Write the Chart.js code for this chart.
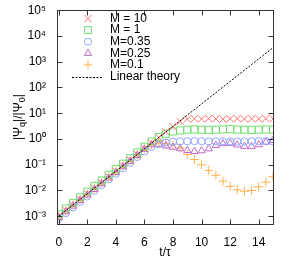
<!DOCTYPE html>
<html>
<head>
<meta charset="utf-8">
<script src="https://cdn.jsdelivr.net/npm/chart.js"></script>
<style>
  html, body { margin: 0; padding: 0; background: #fff; }
  #wrap { width: 291px; height: 262px; }
</style>
</head>
<body>
<div id="wrap"><canvas id="chart" width="291" height="262"></canvas></div>
<script>
// время t/tau, шаг 0.5
const times = [0, 0.5, 1, 1.5, 2, 2.5, 3, 3.5, 4, 4.5, 5, 5.5, 6, 6.5, 7, 7.5,
  8, 8.5, 9, 9.5, 10, 10.5, 11, 11.5, 12, 12.5, 13, 13.5, 14, 14.5, 15];

// |Psi_q|/|Psi_0| для разных M
const m10 = [1.0e-3, 1.7e-3, 2.8e-3, 4.6e-3, 7.5e-3, 1.25e-2, 2.0e-2, 3.4e-2, 5.6e-2, 9.3e-2,
  0.15, 0.25, 0.42, 0.7, 1.15, 1.9, 3.0, 4.8,
  5.9, 6.1, 6.0, 6.2, 6.0, 5.9, 6.1, 6.2, 6.0, 6.1, 6.0, 6.2, 6.1];
const m1 = [1.2e-3, 2.0e-3, 3.3e-3, 5.5e-3, 9.0e-3, 1.5e-2, 2.45e-2, 4.1e-2, 6.7e-2, 0.11,
  0.18, 0.3, 0.5, 0.8, 1.2, 1.6, 1.95, 2.15,
  2.3, 2.35, 2.3, 2.25, 2.3, 2.35, 2.4, 2.3, 2.3, 2.25, 2.3, 2.35, 2.3];
const m035 = [8e-4, 1.33e-3, 2.2e-3, 3.65e-3, 5.9e-3, 9.8e-3, 1.63e-2, 2.7e-2, 4.5e-2, 7.4e-2,
  0.12, 0.2, 0.33, 0.5, 0.63, 0.72, 0.78, 0.8,
  0.82, 0.83, 0.82, 0.8, 0.81, 0.82, 0.8, 0.79, 0.8, 0.82, 0.83, 0.82, 0.8];
const m025 = [9e-4, 1.5e-3, 2.5e-3, 4.1e-3, 6.7e-3, 1.1e-2, 1.84e-2, 3.05e-2, 5.0e-2, 8.4e-2,
  0.135, 0.23, 0.4, 0.6, 0.63, 0.54, 0.48, 0.42,
  0.36, 0.33, 0.35, 0.42, 0.56, 0.66, 0.68, 0.59, 0.52, 0.51, 0.6, 0.76, 0.89];
const m01 = [1.0e-3, 1.6e-3, 2.7e-3, 4.5e-3, 7.3e-3, 1.2e-2, 2.0e-2, 3.3e-2, 5.5e-2, 9.0e-2,
  0.15, 0.25, 0.42, 0.6, 0.7, 0.68, 0.6, 0.45,
  0.25, 0.16, 0.1, 0.06, 0.039, 0.023, 0.0145, 0.0107, 0.0093, 0.01, 0.0138, 0.021, 0.034];

// линейная теория (прямая в логарифмическом масштабе)
const linearT = [0, 15];
const linearY = [1e-3, 3.5e3];

// подписи делений
const xTicks = [0, 2, 4, 6, 8, 10, 12, 14];
const yExponents = [-3, -2, -1, 0, 1, 2, 3, 4, 5];
const supDigits = { '-': '\u207B', '0': '\u2070', '1': '\u00B9', '2': '\u00B2', '3': '\u00B3',
  '4': '\u2074', '5': '\u2075', '6': '\u2076', '7': '\u2077', '8': '\u2078', '9': '\u2079' };

function toPoints(xs, ys) {
  return xs.map((x, i) => ({ x: x, y: ys[i] }));
}

function markerSet(label, values, color, style, radius) {
  return {
    label: label,
    data: toPoints(times, values),
    showLine: false,
    borderColor: color,
    backgroundColor: 'rgba(0,0,0,0)',
    pointStyle: style,
    pointRadius: radius,
    pointBorderWidth: 1,
    pointBackgroundColor: 'rgba(0,0,0,0)',
    pointBorderColor: color,
    order: 1
  };
}

const FONT = 'Liberation Sans, Arial, sans-serif';

// рамка, внутренние деления, легенда и подпись оси Y
const framePlugin = {
  id: 'frame',
  afterDraw(chart) {
    const ctx = chart.ctx;
    const a = chart.chartArea;
    const xs = chart.scales.x;
    const ys = chart.scales.y;
    const L = Math.round(a.left) + 0.5, R = Math.round(a.right) + 0.5;
    const T = Math.round(a.top) + 0.5, B = Math.round(a.bottom) + 0.5;
    ctx.save();
    ctx.strokeStyle = '#333';
    ctx.lineWidth = 1;
    ctx.strokeRect(L, T, R - L, B - T);
    ctx.beginPath();
    xTicks.forEach(v => {
      const px = Math.round(xs.getPixelForValue(v)) + 0.5;
      ctx.moveTo(px, B); ctx.lineTo(px, B - 5);
      ctx.moveTo(px, T); ctx.lineTo(px, T + 5);
    });
    yExponents.forEach(e => {
      const py = Math.round(ys.getPixelForValue(Math.pow(10, e))) + 0.5;
      ctx.moveTo(L, py); ctx.lineTo(L + 5, py);
      ctx.moveTo(R, py); ctx.lineTo(R - 5, py);
    });
    ctx.stroke();

    // легенда
    const rowY0 = 18.5, rowStep = 11.6;
    ctx.font = '12px ' + FONT;
    ctx.textBaseline = 'middle';
    ctx.textAlign = 'left';
    chart.data.datasets.forEach((ds, i) => {
      const y = rowY0 + i * rowStep;
      if (ds.showLine === false) {
        ctx.strokeStyle = ds.pointBorderColor;
        ctx.fillStyle = 'rgba(0,0,0,0)';
        ctx.lineWidth = 1;
        Chart.helpers.drawPoint(ctx, {
          pointStyle: ds.pointStyle, radius: ds.pointRadius, rotation: 0, borderWidth: 1
        }, 88, y);
      } else {
        ctx.strokeStyle = ds.borderColor;
        ctx.lineWidth = 1;
        ctx.setLineDash(ds.borderDash);
        ctx.beginPath();
        ctx.moveTo(72, Math.round(y) + 0.5);
        ctx.lineTo(102, Math.round(y) + 0.5);
        ctx.stroke();
        ctx.setLineDash([]);
      }
      ctx.fillStyle = '#000';
      ctx.fillText(ds.label, 110, y);
    });

    // подпись оси Y с индексами
    const cy = (a.top + a.bottom) / 2;
    ctx.translate(18, cy);
    ctx.rotate(-Math.PI / 2);
    const parts = [['|\u03A8', 12, 0], ['q', 9, 3], ['|/|\u03A8', 12, 0], ['0', 9, 3], ['|', 12, 0]];
    let total = 0;
    parts.forEach(p => { ctx.font = p[1] + 'px ' + FONT; total += ctx.measureText(p[0]).width; });
    let x = -total / 2;
    ctx.textBaseline = 'alphabetic';
    parts.forEach(p => {
      ctx.font = p[1] + 'px ' + FONT;
      ctx.fillText(p[0], x, 4 + p[2]);
      x += ctx.measureText(p[0]).width;
    });
    ctx.restore();
  }
};

new Chart(document.getElementById('chart'), {
  type: 'scatter',
  data: {
    datasets: [
      markerSet('M = 10', m10, '#ff6f6f', 'crossRot', 5),
      markerSet('M = 1', m1, '#6fe06f', 'rect', 5),
      markerSet('M=0.35', m035, '#8ea6ff', 'circle', 3.6),
      markerSet('M=0.25', m025, '#c06ad0', 'triangle', 4.2),
      markerSet('M=0.1', m01, '#ffb24f', 'cross', 4.5),
      {
        label: 'Linear theory',
        data: toPoints(linearT, linearY),
        showLine: true,
        borderColor: '#000',
        borderWidth: 1,
        borderDash: [2, 1.5],
        pointRadius: 0,
        fill: false,
        order: 0
      }
    ]
  },
  options: {
    responsive: false,
    animation: false,
    events: [],
    layout: { padding: { left: 0, top: 9, right: 18, bottom: 0 } },
    plugins: {
      legend: { display: false },
      tooltip: { enabled: false }
    },
    scales: {
      x: {
        type: 'linear',
        min: -0.12,
        max: 15,
        grid: { display: false },
        border: { display: false },
        afterBuildTicks(scale) { scale.ticks = xTicks.map(v => ({ value: v })); },
        afterFit(scale) { scale.height = 38; },
        ticks: { color: '#000', font: { family: FONT, size: 12 }, padding: 3, maxRotation: 0 },
        title: { display: true, text: 't/\u03C4', color: '#000', font: { family: FONT, size: 12 }, padding: { top: 0, bottom: 2 } }
      },
      y: {
        type: 'logarithmic',
        min: 5e-4,
        max: 1e5,
        grid: { display: false },
        border: { display: false },
        afterBuildTicks(scale) { scale.ticks = yExponents.map(e => ({ value: Math.pow(10, e) })); },
        afterFit(scale) { scale.width = 57; },
        ticks: {
          color: '#000',
          font: { family: FONT, size: 12 },
          padding: 3,
          autoSkip: false,
          callback(value) {
            const e = Math.round(Math.log10(value));
            return '10' + String(e).split('').map(c => supDigits[c]).join('');
          }
        }
      }
    }
  },
  plugins: [framePlugin]
});
</script>
</body>
</html>
